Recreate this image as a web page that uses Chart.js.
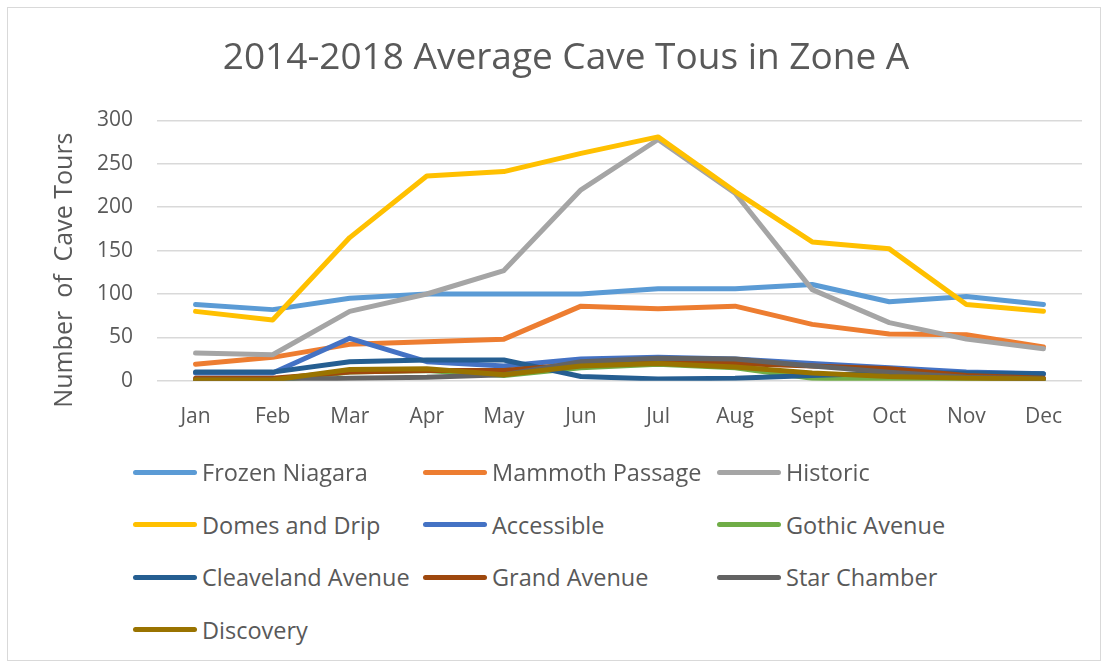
<!DOCTYPE html>
<html>
<head>
<meta charset="utf-8">
<script src="https://cdn.jsdelivr.net/npm/chart.js@4/dist/chart.umd.min.js"></script>
<style>
  html, body { margin: 0; padding: 0; background: #fff; }
  #frame {
    position: absolute; left: 7px; top: 7px; width: 1092px; height: 652px;
    border: 1px solid #d9d9d9;
  }
  #wrap { position: absolute; left: 0; top: 0; width: 1108px; height: 464px; }
  #legend { position: absolute; left: 133px; top: 457px; width: 960px; }
  .item {
    position: absolute; height: 30px; display: flex; align-items: center;
    font-family: 'Open Sans', sans-serif; font-size: 23.5px; color: #595959;
    white-space: nowrap;
  }
  .swatch { width: 64px; height: 5px; border-radius: 3px; margin-right: 5px; }
</style>
</head>
<body>
<div id="frame"></div>
<div id="wrap"><canvas id="caveChart"></canvas></div>
<div id="legend"></div>
<script>
const months = ['Jan', 'Feb', 'Mar', 'Apr', 'May', 'Jun', 'Jul', 'Aug', 'Sept', 'Oct', 'Nov', 'Dec'];
const yTicks = [0, 50, 100, 150, 200, 250, 300];

const frozenNiagara = [88, 82, 95, 100, 100, 100, 106, 106, 111, 91, 97, 88];
const mammothPassage = [19, 27, 42, 45, 48, 86, 83, 86, 65, 54, 53, 39];
const historic = [32, 30, 80, 100, 127, 220, 278, 216, 105, 67, 48, 37];
const domesAndDrip = [80, 70, 165, 236, 241, 262, 281, 218, 160, 152, 88, 80];
const accessible = [9, 9, 49, 22, 17, 25, 27, 25, 20, 15, 10, 8];
const gothicAvenue = [0, 0, 10, 12, 6, 15, 19, 15, 3, 1, 1, 0];
const cleavelandAvenue = [10, 10, 22, 24, 24, 5, 2, 3, 6, 9, 9, 8];
const grandAvenue = [3, 3, 10, 12, 12, 19, 23, 20, 17, 14, 6, 3];
const starChamber = [1, 1, 3, 4, 7, 22, 26, 25, 17, 10, 4, 2];
const discovery = [1, 1, 13, 14, 7, 17, 20, 16, 9, 5, 3, 2];

const seriesNames = ['Frozen Niagara', 'Mammoth Passage', 'Historic', 'Domes and Drip', 'Accessible',
  'Gothic Avenue', 'Cleaveland Avenue', 'Grand Avenue', 'Star Chamber', 'Discovery'];
const seriesData = [frozenNiagara, mammothPassage, historic, domesAndDrip, accessible,
  gothicAvenue, cleavelandAvenue, grandAvenue, starChamber, discovery];
const seriesColors = ['#5B9BD5', '#ED7D31', '#A5A5A5', '#FFC000', '#4472C4',
  '#70AD47', '#255E91', '#9E480E', '#636363', '#997300'];

const textColor = '#595959';
const fontFamily = "'Open Sans', sans-serif";

const datasets = seriesNames.map((name, i) => ({
  label: name,
  data: seriesData[i],
  borderColor: seriesColors[i],
  backgroundColor: seriesColors[i],
  borderWidth: 5,
  borderCapStyle: 'round',
  borderJoinStyle: 'round',
  pointRadius: 0,
  tension: 0,
  order: seriesNames.length - i, // excel puts the last series on top
}));

const chart = new Chart(document.getElementById('caveChart'), {
  type: 'line',
  data: { labels: months, datasets: datasets },
  options: {
    responsive: true,
    maintainAspectRatio: false,
    animation: false,
    layout: { padding: { left: 50, right: 26, top: 36, bottom: 10 } },
    plugins: {
      legend: { display: false },
      tooltip: { enabled: false },
      title: {
        display: true,
        text: '2014-2018 Average Cave Tous in Zone A',
        color: textColor,
        font: { family: fontFamily, size: 37, weight: 'normal' },
        padding: { top: 0, bottom: 40 },
      },
    },
    scales: {
      x: {
        offset: true,
        grid: { display: false, drawTicks: false, offset: true },
        border: { display: false },
        ticks: { color: textColor, font: { family: fontFamily, size: 21 }, padding: 24, maxRotation: 0 },
      },
      y: {
        min: 0,
        max: 300,
        afterBuildTicks: (scale) => {
          scale.ticks = yTicks.map((v) => ({ value: v }));
        },
        afterFit: (scale) => {
          scale.width = 107;
        },
        grid: { color: '#d9d9d9', lineWidth: 1.5, drawTicks: false },
        border: { display: false },
        ticks: { color: textColor, font: { family: fontFamily, size: 21 }, padding: 24 },
        title: {
          display: true,
          // trailing spaces push the title a bit lower, as in the excel chart
          text: 'Number  of  Cave Tours      ',
          color: textColor,
          font: { family: fontFamily, size: 25 },
          padding: 0,
        },
      },
    },
  },
});

// legend in three fixed columns like the excel one
const legendBox = document.getElementById('legend');
const colX = [0, 290, 584];
chart.data.datasets.forEach((ds, i) => {
  const item = document.createElement('div');
  item.className = 'item';
  item.style.left = colX[i % 3] + 'px';
  item.style.top = Math.floor(i / 3) * 52.5 + 'px';
  const sw = document.createElement('span');
  sw.className = 'swatch';
  sw.style.background = ds.borderColor;
  item.appendChild(sw);
  item.appendChild(document.createTextNode(ds.label));
  legendBox.appendChild(item);
});
</script>
</body>
</html>
